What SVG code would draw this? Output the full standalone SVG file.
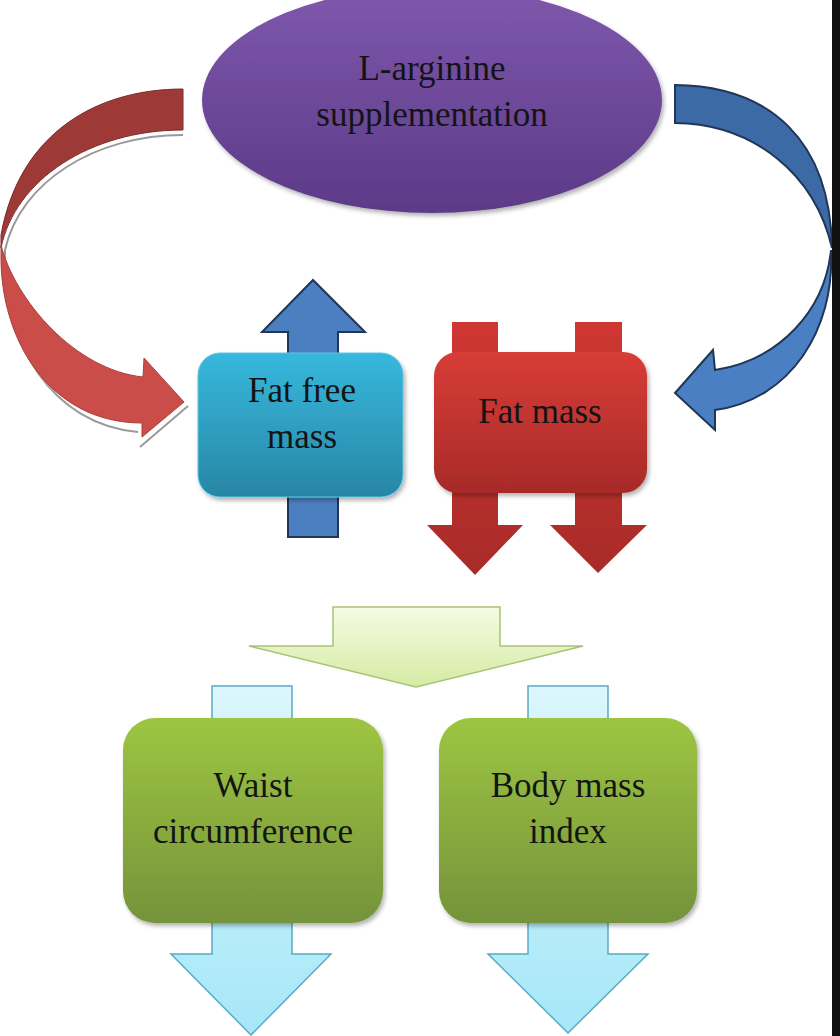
<svg xmlns="http://www.w3.org/2000/svg" width="840" height="1036" viewBox="0 0 840 1036">
<defs>
<linearGradient id="gPurple" x1="0" y1="0" x2="0" y2="1"><stop offset="0" stop-color="#7f58ad"/><stop offset="1" stop-color="#5c3a87"/></linearGradient>
<linearGradient id="gCyan" x1="0" y1="0" x2="0" y2="1"><stop offset="0" stop-color="#36b8dd"/><stop offset="1" stop-color="#2886a5"/></linearGradient>
<linearGradient id="gRed" x1="0" y1="0" x2="0" y2="1"><stop offset="0" stop-color="#d83c37"/><stop offset="1" stop-color="#a72b28"/></linearGradient>
<linearGradient id="gRedArrow" x1="0" y1="0" x2="0" y2="1"><stop offset="0" stop-color="#cf3733"/><stop offset="1" stop-color="#a82b28"/></linearGradient>
<linearGradient id="gGreen" x1="0" y1="0" x2="0" y2="1"><stop offset="0" stop-color="#9dc542"/><stop offset="1" stop-color="#75933a"/></linearGradient>
<linearGradient id="gLightBlue" x1="0" y1="0" x2="0" y2="1"><stop offset="0" stop-color="#dcf6fd"/><stop offset="1" stop-color="#a6e7f8"/></linearGradient>
<linearGradient id="gChevron" x1="0" y1="0" x2="0" y2="1"><stop offset="0" stop-color="#f6fbe2"/><stop offset="1" stop-color="#d5eba4"/></linearGradient>
<filter id="shadow" x="-10%" y="-10%" width="125%" height="130%"><feDropShadow dx="2" dy="3" stdDeviation="2" flood-color="#000" flood-opacity="0.3"/></filter>
</defs>
<style>
.lbl{font-family:"Liberation Serif","Times New Roman",serif;font-size:35px;fill:#141414;text-anchor:middle}
.blueArrow{stroke:#1f3656;stroke-width:2;stroke-linejoin:miter}
.lbArrow{fill:url(#gLightBlue);stroke:#5aaac4;stroke-width:1.5}
.shade{fill:none;stroke:#9a9a9a;stroke-width:2}
</style>
<rect width="840" height="1036" fill="#ffffff"/>

<g id="connectors">
  <!-- left curved red arrow -->
  <g id="arrow-left-curved">
    <path class="shade" d="M183,135 C 95,135 20,182 5,250 C 3,345 52,424 138,432"/>
    <path class="shade" d="M188,406 L140,447"/>
    <path d="M183,89 C 100,89 20,130 1,235 L1,248 C 15,180 90,130 183,130 Z" fill="#9d3a37" stroke="#7e2c2a" stroke-width="1"/>
    <path d="M1,245 C 15,300 75,370 143,377 L144,358 L184,402 L142,437 L142,423 C 50,423 0,340 1,255 Z" fill="#cb4d49" stroke="#a8403c" stroke-width="1"/>
  </g>
  <!-- right curved blue arrow -->
  <g id="arrow-right-curved">
    <path class="blueArrow" d="M675,85 C 770,86 830,140 832,248 C 815,175 755,124 675,123 Z" fill="#3c6aa6"/>
    <path class="blueArrow" d="M831,250 C 835,330 790,400 715,410 L715,430 L675,393 L713,350 L715,370 C 780,360 825,310 831,250 Z" fill="#4a80c3"/>
  </g>
  <!-- fat free mass up arrow -->
  <path id="arrow-ffm-up" class="blueArrow" d="M288,537 L288,332 L262,332 L313,280 L365,332 L338,332 L338,537 Z" fill="#4b7fc1"/>
  <!-- fat mass down arrows -->
  <path id="arrow-fm-down-1" d="M452,322 L498,322 L498,525 L523,525 L475,575 L427,525 L452,525 Z" fill="url(#gRedArrow)"/>
  <path id="arrow-fm-down-2" d="M575,322 L622,322 L622,525 L647,525 L598,573 L550,525 L575,525 Z" fill="url(#gRedArrow)"/>
  <!-- central chevron arrow -->
  <path id="arrow-chevron" d="M333,607 L500,607 L500,646 L583,646 L416,687 L249,646 L333,646 Z" fill="url(#gChevron)" stroke="#a9c277" stroke-width="1.5"/>
  <!-- light blue arrows through outcome boxes -->
  <path id="arrow-waist-down" class="lbArrow" d="M212,686 L292,686 L292,954 L331,954 L251,1035 L171,954 L212,954 Z"/>
  <path id="arrow-bmi-down" class="lbArrow" d="M528,686 L608,686 L608,954 L648,954 L568,1033 L488,954 L528,954 Z"/>
</g>

<g id="node-arginine">
  <ellipse cx="432" cy="100" rx="230" ry="113" fill="url(#gPurple)" filter="url(#shadow)"/>
  <text class="lbl" x="432" y="80">L-arginine</text>
  <text class="lbl" x="432" y="126">supplementation</text>
</g>

<g id="node-ffm">
  <rect x="198" y="353" width="205" height="144" rx="22" fill="url(#gCyan)" stroke="#5cc6e4" stroke-width="1" filter="url(#shadow)"/>
  <text class="lbl" x="302" y="402">Fat free</text>
  <text class="lbl" x="302" y="448">mass</text>
</g>

<g id="node-fm">
  <rect x="434" y="352" width="213" height="141" rx="24" fill="url(#gRed)" filter="url(#shadow)"/>
  <text class="lbl" x="540" y="423">Fat mass</text>
</g>

<g id="node-waist">
  <rect x="123" y="718" width="260" height="205" rx="32" fill="url(#gGreen)" filter="url(#shadow)"/>
  <text class="lbl" x="253" y="797">Waist</text>
  <text class="lbl" x="253" y="843">circumference</text>
</g>

<g id="node-bmi">
  <rect x="439" y="718" width="258" height="205" rx="32" fill="url(#gGreen)" filter="url(#shadow)"/>
  <text class="lbl" x="568" y="797">Body mass</text>
  <text class="lbl" x="568" y="843">index</text>
</g>

<rect x="832" y="0" width="8" height="1036" fill="#111111"/>
</svg>
